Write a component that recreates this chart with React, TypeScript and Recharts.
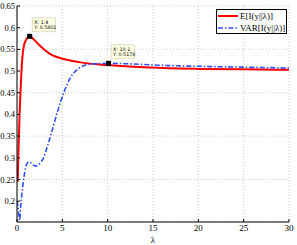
import { LineChart, Line, XAxis, YAxis, CartesianGrid, ReferenceDot } from "recharts"

const lambdaE = [0.08, 0.18, 0.29, 0.4, 0.47, 0.58, 0.77, 1, 1.2, 1.4, 1.8, 2.5, 3.6, 5.5, 7, 9.1, 12.8, 14.6, 20, 25, 30]
const eValues = [0.245, 0.326, 0.404, 0.458, 0.489, 0.528, 0.559, 0.572, 0.578, 0.5801, 0.574, 0.559, 0.54, 0.526, 0.52, 0.515, 0.51, 0.508, 0.505, 0.504, 0.503]

const lambdaV = [0, 0.1, 0.3, 0.4, 0.59, 0.77, 1.13, 1.35, 2.05, 2.6, 3, 3.3, 3.7, 4.43, 5.16, 5.9, 6.8, 8.1, 10.1, 12, 15, 20, 25, 30]
const vValues = [0.2, 0.187, 0.156, 0.187, 0.226, 0.256, 0.288, 0.29, 0.281, 0.289, 0.303, 0.323, 0.35, 0.404, 0.45, 0.485, 0.506, 0.516, 0.5178, 0.517, 0.514, 0.511, 0.509, 0.507]

const xTicks = [0, 5, 10, 15, 20, 25, 30]
const yTicks = [0.2, 0.25, 0.3, 0.35, 0.4, 0.45, 0.5, 0.55, 0.6, 0.65]

const tips = [
  { x: 1.4, y: 0.5801 },
  { x: 10.1, y: 0.5178 },
]

const eData = lambdaE.map((l, i) => ({ l, v: eValues[i] }))
const vData = lambdaV.map((l, i) => ({ l, v: vValues[i] }))

const serif = "'Liberation Serif', 'DejaVu Serif', serif"

function TipShape(props: any) {
  const { cx, cy, tip } = props
  const bx = cx + 2.5
  const by = cy - 18.5
  return (
    <g>
      <rect x={cx - 2.5} y={cy - 2.5} width={5} height={5} fill="#000" />
      <rect x={bx} y={by} width={23.5} height={14} fill="#ffffe1" stroke="#c8c8b0" strokeWidth={0.6} />
      <text x={bx + 2} y={by + 5.8} fontSize={4.8} fontFamily="'DejaVu Sans', sans-serif" fill="#000">
        X: {tip.x}
      </text>
      <text x={bx + 2} y={by + 11.3} fontSize={4.8} fontFamily="'DejaVu Sans', sans-serif" fill="#000">
        Y: {tip.y}
      </text>
    </g>
  )
}

function LegendBox() {
  return (
    <div
      style={{
        position: "absolute",
        left: 216,
        top: 9,
        border: "1px solid #000",
        background: "#fff",
        width: 71,
        height: 25,
        fontFamily: serif,
        fontSize: 9,
        lineHeight: "12px",
        boxSizing: "border-box",
        whiteSpace: "nowrap",
      }}
    >
      <div style={{ display: "flex", alignItems: "center", height: 12 }}>
        <svg width={23} height={6}>
          <line x1={1} y1={3} x2={21} y2={3} stroke="#ff0000" strokeWidth={2} />
        </svg>
        <span>E[I(y||λ)]</span>
      </div>
      <div style={{ display: "flex", alignItems: "center", height: 11 }}>
        <svg width={23} height={6}>
          <line x1={1} y1={3} x2={21} y2={3} stroke="#2e4cff" strokeWidth={1.6} strokeDasharray="5 2 1.5 2" />
        </svg>
        <span>VAR[I(y||λ)]</span>
      </div>
    </div>
  )
}

export default function App() {
  return (
    <div style={{ position: "fixed", left: 0, top: 0, width: 297, height: 245, background: "#fff" }}>
      <LineChart width={297} height={245} margin={{ top: 6, right: 8, bottom: 0, left: 0 }}>
        <CartesianGrid stroke="#b4b4b4" strokeDasharray="1 2" strokeWidth={0.7} />
        <XAxis
          xAxisId={0}
          dataKey="l"
          type="number"
          domain={[0, 30]}
          ticks={xTicks}
          allowDataOverflow
          height={23}
          tickSize={-3}
          tickMargin={6}
          stroke="#000"
          tick={{ fontFamily: serif, fontSize: 9, fill: "#000" }}
          label={{ value: "λ", position: "insideBottom", offset: 2, fontFamily: serif, fontSize: 9, fill: "#000" }}
        />
        <XAxis
          xAxisId="top"
          orientation="top"
          type="number"
          domain={[0, 30]}
          ticks={xTicks}
          height={0}
          tickSize={-3}
          stroke="#000"
          tick={false}
        />
        <YAxis
          yAxisId={0}
          type="number"
          domain={[0.152, 0.65]}
          ticks={yTicks}
          allowDataOverflow
          width={17}
          tickSize={-3}
          tickMargin={5}
          stroke="#000"
          tick={{ fontFamily: serif, fontSize: 8.5, fill: "#000" }}
          tickFormatter={(v: number) => String(Number(v.toFixed(2)))}
        />
        <YAxis
          yAxisId="right"
          orientation="right"
          type="number"
          domain={[0.152, 0.65]}
          ticks={yTicks}
          width={0}
          tickSize={-3}
          stroke="#000"
          tick={false}
        />
        <Line
          data={eData}
          dataKey="v"
          type="monotone"
          stroke="#ff0000"
          strokeWidth={2}
          dot={false}
          isAnimationActive={false}
        />
        <Line
          data={vData}
          dataKey="v"
          type="monotone"
          stroke="#2e4cff"
          strokeWidth={1.6}
          strokeDasharray="5 2 1.5 2"
          dot={false}
          isAnimationActive={false}
        />
        {tips.map((t) => (
          <ReferenceDot key={t.x} x={t.x} y={t.y} r={2.5} shape={(p: any) => <TipShape {...p} tip={t} />} />
        ))}
      </LineChart>
      <LegendBox />
    </div>
  )
}
